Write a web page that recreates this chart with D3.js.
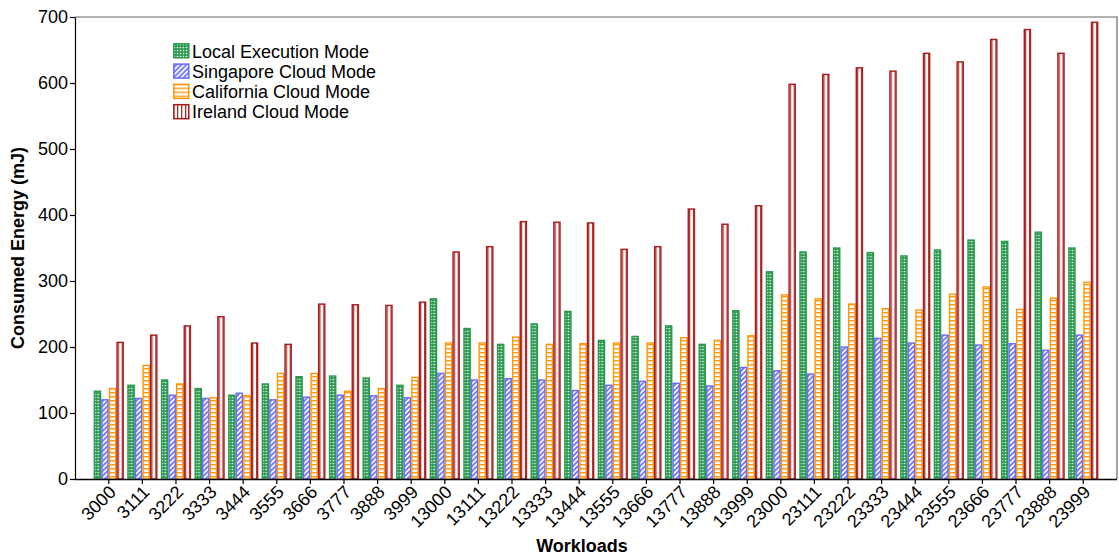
<!DOCTYPE html>
<html>
<head>
<meta charset="utf-8">
<script src="https://cdn.jsdelivr.net/npm/d3@7"></script>
<style>
  html, body { margin: 0; padding: 0; background: #fff; }
  svg { display: block; font-family: "Liberation Sans", Arial, Helvetica, sans-serif; }
</style>
</head>
<body>
<svg id="chart" width="1119" height="560"></svg>
<script>
// Workload identifiers along the x axis
const workloads = ["3000", "3111", "3222", "3333", "3444", "3555", "3666", "3777", "3888", "3999",
  "13000", "13111", "13222", "13333", "13444", "13555", "13666", "13777", "13888", "13999",
  "23000", "23111", "23222", "23333", "23444", "23555", "23666", "23777", "23888", "23999"];

// Consumed energy (mJ) per execution mode
const localExecution = [133, 142, 150, 137, 127, 144, 155, 156, 153, 142,
  273, 228, 204, 235, 254, 210, 216, 232, 204, 255,
  314, 344, 350, 343, 338, 347, 362, 360, 374, 350];
const singaporeCloud = [120, 122, 127, 122, 130, 120, 124, 127, 126, 123,
  160, 150, 152, 150, 134, 142, 148, 145, 141, 169,
  164, 159, 200, 213, 206, 218, 203, 205, 195, 218];
const californiaCloud = [137, 172, 144, 123, 126, 160, 160, 133, 137, 154,
  206, 206, 215, 204, 205, 206, 206, 214, 210, 217,
  279, 273, 265, 258, 256, 280, 291, 257, 274, 298];
const irelandCloud = [207, 218, 232, 246, 206, 204, 265, 264, 263, 268,
  344, 352, 390, 389, 388, 348, 352, 409, 386, 414,
  598, 613, 623, 618, 645, 632, 666, 681, 645, 692];

const seriesNames = ["Local Execution Mode", "Singapore Cloud Mode", "California Cloud Mode", "Ireland Cloud Mode"];
const seriesValues = [localExecution, singaporeCloud, californiaCloud, irelandCloud];
const yTicks = [0, 100, 200, 300, 400, 500, 600, 700];

const svg = d3.select("#chart");
const plot = { left: 75, right: 1117, top: 17, bottom: 479 };
const FONT = 18;

// Hatch patterns for each mode
const defs = svg.append("defs");
const styles = [
  { id: "pGreen", stroke: "#2b9a4f" },
  { id: "pBlue", stroke: "#6a6aff" },
  { id: "pOrange", stroke: "#ff9500" },
  { id: "pRed", stroke: "#a81c1c" }
];

// green: dense cross-hatch with small white openings
const pg = defs.append("pattern").attr("id", "pGreen").attr("patternUnits", "userSpaceOnUse")
  .attr("width", 3).attr("height", 3);
pg.append("rect").attr("width", 3).attr("height", 3).attr("fill", "#2a984d");
pg.append("circle").attr("cx", 1.5).attr("cy", 1.5).attr("r", 0.85).attr("fill", "#f2fbf4");

// blue: forward diagonal lines
const pb = defs.append("pattern").attr("id", "pBlue").attr("patternUnits", "userSpaceOnUse")
  .attr("width", 5).attr("height", 5);
pb.append("rect").attr("width", 5).attr("height", 5).attr("fill", "#fff");
pb.append("path").attr("d", "M-1,6 L6,-1 M-1,1 L1,-1 M4,6 L6,4")
  .attr("stroke", "#6a6aff").attr("stroke-width", 1.6);

// orange: horizontal lines
const po = defs.append("pattern").attr("id", "pOrange").attr("patternUnits", "userSpaceOnUse")
  .attr("width", 4).attr("height", 4);
po.append("rect").attr("width", 4).attr("height", 4).attr("fill", "#fff");
po.append("rect").attr("y", 0).attr("width", 4).attr("height", 1.4).attr("fill", "#ff9a10");

// red: vertical lines
const pr = defs.append("pattern").attr("id", "pRed").attr("patternUnits", "userSpaceOnUse")
  .attr("width", 4).attr("height", 4);
pr.append("rect").attr("width", 4).attr("height", 4).attr("fill", "#fff");
pr.append("rect").attr("x", 0).attr("width", 1.3).attr("height", 4).attr("fill", "#b02a2a");

// Scales
const x0 = d3.scaleBand().domain(workloads).range([plot.left, plot.right])
  .paddingInner(0.1).paddingOuter(0.555);
const x1 = d3.scaleBand().domain(d3.range(4)).range([0, x0.bandwidth()]);
const y = d3.scaleLinear().domain([0, 700]).range([plot.bottom, plot.top]);

// Frame (top and right)
svg.append("path")
  .attr("d", `M${plot.left},${plot.top}H${plot.right}V${plot.bottom}`)
  .attr("fill", "none").attr("stroke", "#666").attr("stroke-width", 1.2);

// Bars
const groups = svg.append("g").selectAll("g").data(workloads).join("g")
  .attr("transform", d => `translate(${x0(d)},0)`);

groups.selectAll("rect")
  .data((d, i) => seriesValues.map((vals, s) => ({ s, v: vals[i] })))
  .join("rect")
  .attr("x", d => x1(d.s) + 0.7)
  .attr("width", x1.bandwidth() - 1.4)
  .attr("y", d => y(d.v))
  .attr("height", d => y(0) - y(d.v))
  .attr("fill", d => `url(#${styles[d.s].id})`)
  .attr("stroke", d => styles[d.s].stroke)
  .attr("stroke-width", 1.4);

// Axes
const xAxis = d3.axisBottom(x0).tickSize(5).tickSizeOuter(0);
const gx = svg.append("g").attr("transform", `translate(0,${plot.bottom})`).call(xAxis);
gx.select(".domain").attr("stroke", "#000").attr("stroke-width", 1.5)
  .attr("d", `M${plot.left},0.5H${plot.right}`);
gx.selectAll(".tick line").attr("stroke", "#000").attr("stroke-width", 1.2);
gx.selectAll(".tick text")
  .attr("font-size", FONT).attr("fill", "#000")
  .attr("text-anchor", "end")
  .attr("dy", null).attr("y", 0)
  .attr("transform", "translate(4,10) rotate(-45)")
  .attr("dominant-baseline", "central");

const yAxis = d3.axisLeft(y).tickValues(yTicks).tickSize(5).tickSizeOuter(0);
const gy = svg.append("g").attr("transform", `translate(${plot.left},0)`).call(yAxis);
gy.select(".domain").attr("stroke", "#000").attr("stroke-width", 1.2);
gy.selectAll(".tick line").attr("stroke", "#000").attr("stroke-width", 1.2);
gy.selectAll(".tick text").attr("font-size", FONT).attr("fill", "#000").attr("x", -7);

// Axis titles
svg.append("text")
  .attr("x", 582).attr("y", 552)
  .attr("text-anchor", "middle").attr("font-size", FONT).attr("font-weight", "bold")
  .text("Workloads");
svg.append("text")
  .attr("transform", `translate(24,${(plot.top + plot.bottom) / 2}) rotate(-90)`)
  .attr("text-anchor", "middle").attr("font-size", FONT).attr("font-weight", "bold")
  .text("Consumed Energy (mJ)");

// Legend
const legend = svg.append("g").attr("transform", "translate(173,43)");
const li = legend.selectAll("g").data(seriesNames).join("g")
  .attr("transform", (d, i) => `translate(0,${i * 20.3})`);
li.append("rect").attr("x", 0.8).attr("y", 0.8).attr("width", 15).attr("height", 14)
  .attr("fill", (d, i) => `url(#${styles[i].id})`)
  .attr("stroke", (d, i) => styles[i].stroke).attr("stroke-width", 1.5);
li.append("text").attr("x", 19).attr("y", 14.5).attr("font-size", FONT).attr("fill", "#000")
  .text(d => d);
</script>
</body>
</html>
